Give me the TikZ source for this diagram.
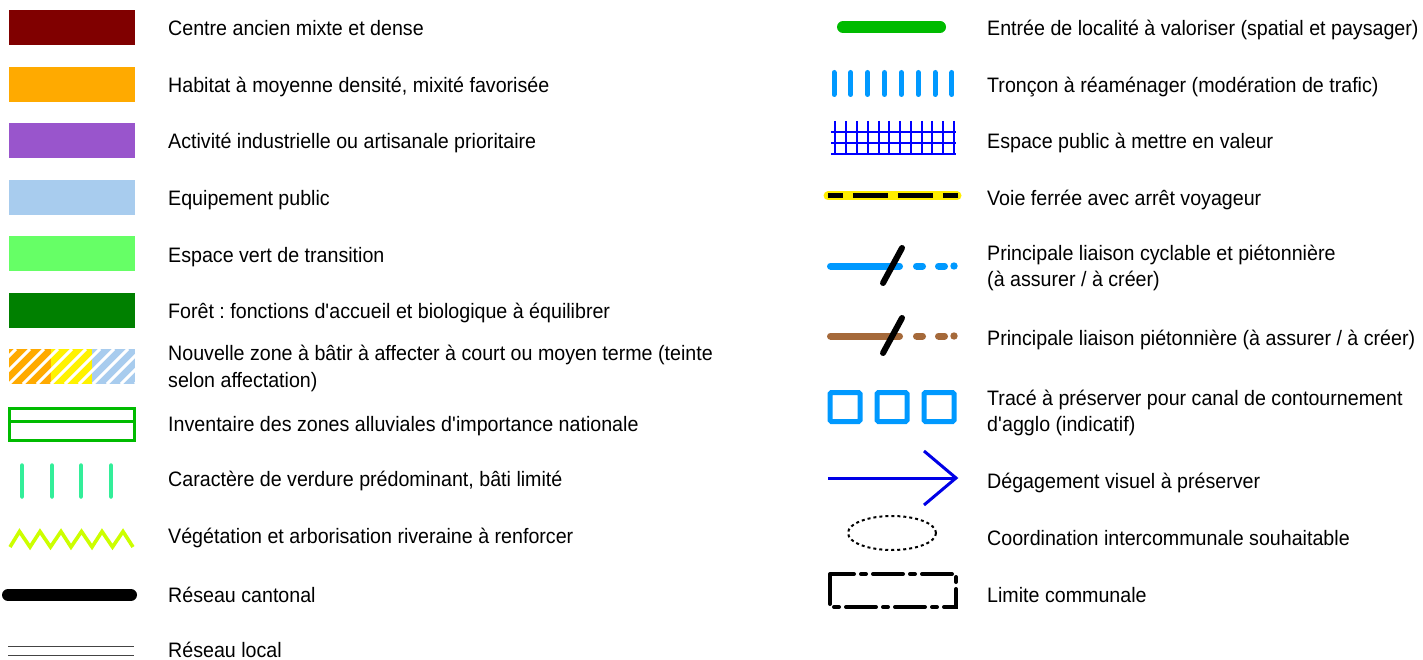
\documentclass[tikz,border=0pt]{standalone}
\usepackage{fontspec}
\setmainfont[FakeStretch=0.94]{Liberation Sans}
\frenchspacing
\definecolor{cAncien}{HTML}{800000}
\definecolor{cHabitat}{HTML}{FFAA00}
\definecolor{cActiv}{HTML}{9955CC}
\definecolor{cEquip}{HTML}{A8CCEE}
\definecolor{cVertT}{HTML}{66FF66}
\definecolor{cForet}{HTML}{008000}
\definecolor{cYel}{HTML}{FFF200}
\definecolor{cAlluv}{HTML}{00BB00}
\definecolor{cVerdure}{HTML}{33EE99}
\definecolor{cRiv}{HTML}{CCFF00}
\definecolor{cEntree}{HTML}{00BB00}
\definecolor{cBlueL}{HTML}{0099FF}
\definecolor{cGrid}{HTML}{0000FF}
\definecolor{cRailY}{HTML}{FFEE00}
\definecolor{cBrown}{HTML}{A5693A}
\definecolor{cArrow}{HTML}{0000E6}
\definecolor{cLocal}{HTML}{444444}
\newcommand{\apo}{\textquotesingle}
\begin{document}
\begin{tikzpicture}[x=1pt,y=-1pt,
  lbl/.style={anchor=base west,inner sep=0pt,font=\fontsize{20.9}{26}\selectfont,text=black},
  slash/.style={black,line width=6pt,line cap=round}]
\useasboundingbox (0,0) rectangle (1423,660);
% ---------- left column symbols
\fill[cAncien]  (9,10)  rectangle (135,45);
\fill[cHabitat] (9,67)  rectangle (135,102);
\fill[cActiv]   (9,123) rectangle (135,158);
\fill[cEquip]   (9,180) rectangle (135,215);
\fill[cVertT]   (9,236) rectangle (135,271);
\fill[cForet]   (9,293) rectangle (135,328);
% hatched new zone
\begin{scope}
  \clip (9,349) rectangle (135,384);
  \fill[cHabitat] (9,349) rectangle (51,384);
  \fill[cYel] (51,349) rectangle (92,384);
  \fill[cEquip] (92,349) rectangle (135,384);
  \foreach \i in {-3,...,12} {
    \draw[white,line width=3pt] ({9+14*\i},384) -- ({9+14*\i+35},349);
  }
\end{scope}
% alluvial
\draw[cAlluv,line width=3pt] (9.5,408) rectangle (134.5,440);
\draw[cAlluv,line width=3pt] (9.5,421.5) -- (134.5,421.5);
% verdure bars
\foreach \x in {22,52,81,111} {
  \draw[cVerdure,line width=4.5pt,line cap=round] (\x,465.5) -- (\x,496.5);
}
% riveraine zigzag
\draw[cRiv,line width=3.6pt,line join=miter] (10,547) -- (19.5,531.5) -- (30,547) -- (40,531.5) -- (50.5,547) -- (61,531.5) -- (71,547) -- (81.5,531.5) -- (92,547) -- (102,531.5) -- (112.5,547) -- (123,531.5) -- (133,547);
% cantonal
\draw[black,line width=12pt,line cap=round] (8,595) -- (131,595);
% local
\draw[cLocal,line width=1pt] (8,646.5) -- (134,646.5);
\draw[cLocal,line width=1pt] (8,655) -- (134,655);
% ---------- left labels
\node[lbl] (t1) at (168,35.5) {Centre ancien mixte et dense};
\node[lbl] (t2) at (168,92.5) {Habitat à moyenne densité, mixité favorisée};
\node[lbl] (t3) at (168,148.5) {Activité industrielle ou artisanale prioritaire};
\node[lbl] (t4) at (168,205.5) {Equipement public};
\node[lbl] (t5) at (168,262.5) {Espace vert de transition};
\node[lbl] (t6) at (168,318.5) {Forêt : fonctions d\apo accueil et biologique à équilibrer};
\node[lbl] (t7a) at (168,360) {Nouvelle zone à bâtir à affecter à court ou moyen terme (teinte};
\node[lbl] (t7b) at (168,387) {selon affectation)};
\node[lbl] (t8) at (168,431.5) {Inventaire des zones alluviales d\apo importance nationale};
\node[lbl] (t9) at (168,486.5) {Caractère de verdure prédominant, bâti limité};
\node[lbl] (t10) at (168,543.5) {Végétation et arborisation riveraine à renforcer};
\node[lbl] (t11) at (168,602.5) {Réseau cantonal};
\node[lbl] (t12) at (168,657) {Réseau local};
% ---------- right column symbols
\draw[cEntree,line width=12pt,line cap=round] (843,27) -- (940,27);
\foreach \i in {0,...,7} {
  \draw[cBlueL,line width=5pt,line cap=round] ({834+16.85*\i},72.5) -- ({834+16.85*\i},94.5);
}
% grid
\foreach \yy in {132,143,154} {
  \draw[cGrid,line width=1.4pt] (831,\yy) -- (956,\yy);
}
\foreach \xx in {835,846,857,868,879,889,900,911,922,932,943,954} {
  \draw[cGrid,line width=1.4pt] (\xx,121) -- (\xx,155);
}
% railway
\draw[cRailY,line width=9pt,line cap=round] (828,196) -- (957,196);
\draw[black,line width=5pt,dash pattern=on 35pt off 10pt,dash phase=20pt] (828,196) -- (958,196);
% bike
\draw[cBlueL,line width=7pt,line cap=round] (830.5,266) -- (899.5,266);
\draw[cBlueL,line width=7pt,line cap=round] (916.5,266) -- (922.5,266);
\draw[cBlueL,line width=7pt,line cap=round] (938.5,266) -- (944.5,266);
\fill[cBlueL] (954,266) circle (3.7);
\draw[slash] (883,283) -- (902,248);
% pedestrian
\draw[cBrown,line width=7pt,line cap=round] (830.5,336) -- (899.5,336);
\draw[cBrown,line width=7pt,line cap=round] (916.5,336) -- (922.5,336);
\draw[cBrown,line width=7pt,line cap=round] (938.5,336) -- (944.5,336);
\fill[cBrown] (954,336) circle (3.7);
\draw[slash] (883,353) -- (902,318);
% canal squares
\foreach \cx in {845,892,939} {
  \draw[cBlueL,line width=5pt,rounded corners=1.5pt] ({\cx-15},392.5) rectangle ({\cx+15},421.5);
}
% arrow
\draw[cArrow,line width=3pt] (828,478) -- (956,478);
\draw[cArrow,line width=3pt] (924,451) -- (956,478) -- (924,505);
% ellipse
\draw[black,line width=2pt,dash pattern=on 3pt off 3pt] (892,533) ellipse (44 and 17);
% commune limit
\draw[black,line width=4pt,line cap=round,dash pattern=on 30pt off 7pt on 5pt off 7pt] (830,574) rectangle (956,607);
% ---------- right labels
\node[lbl] (r1) at (987,35.5) {Entrée de localité à valoriser (spatial et paysager)};
\node[lbl] (r2) at (987,92.5) {Tronçon à réaménager (modération de trafic)};
\node[lbl] (r3) at (987,148.5) {Espace public à mettre en valeur};
\node[lbl] (r4) at (987,205.5) {Voie ferrée avec arrêt voyageur};
\node[lbl] (r5a) at (987,260.5) {Principale liaison cyclable et piétonnière};
\node[lbl] (r5b) at (987,286.5) {(à assurer / à créer)};
\node[lbl] (r6) at (987,345.5) {Principale liaison piétonnière (à assurer / à créer)};
\node[lbl] (r7a) at (987,405) {Tracé à préserver pour canal de contournement};
\node[lbl] (r7b) at (987,431) {d\apo agglo (indicatif)};
\node[lbl] (r8) at (987,488.5) {Dégagement visuel à préserver};
\node[lbl] (r9) at (987,545.5) {Coordination intercommunale souhaitable};
\node[lbl] (r10) at (987,602.5) {Limite communale};
\end{tikzpicture}
\end{document}
